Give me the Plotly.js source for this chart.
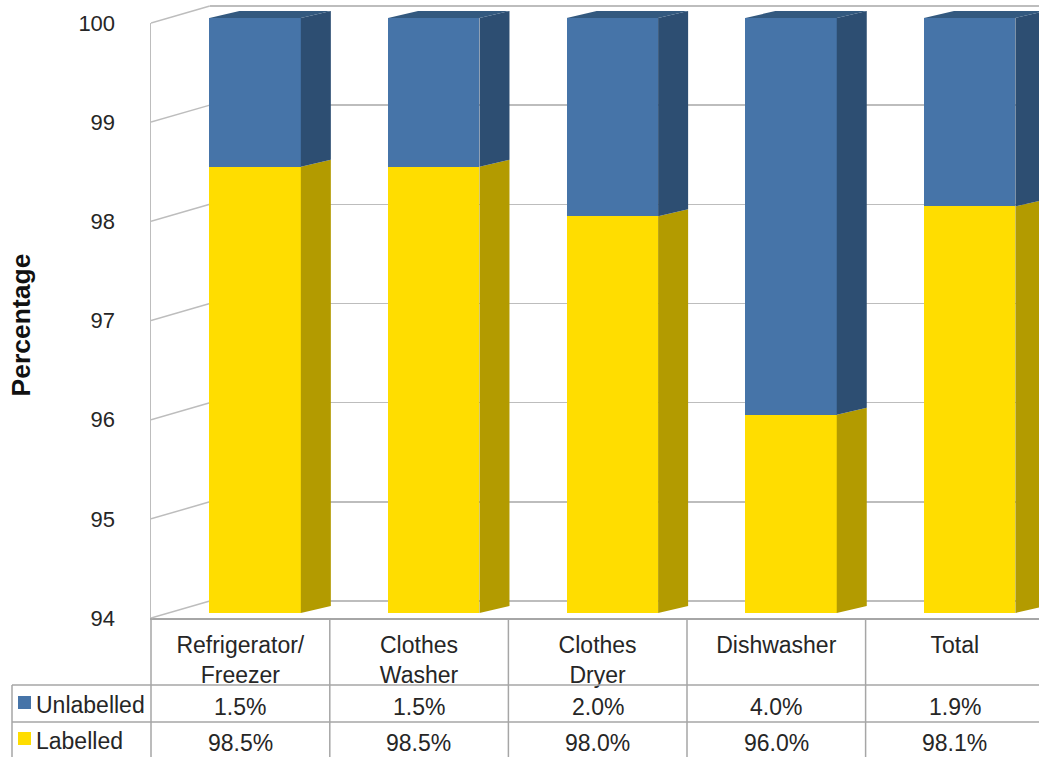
<!DOCTYPE html>
<html><head><meta charset="utf-8">
<script src="https://cdn.plot.ly/plotly-3.0.1.min.js"></script>
<style>html,body{margin:0;padding:0;background:#fff;overflow:hidden}#c{width:1039px;height:757px}</style>
</head><body><div id="c"></div>
<script>
// ---- data ----
var categories = ['Refrigerator/<br>Freezer', 'Clothes<br>Washer', 'Clothes<br>Dryer', 'Dishwasher', 'Total'];
var labelled = [98.5, 98.5, 98.0, 96.0, 98.1];
var unlabelled = [1.5, 1.5, 2.0, 4.0, 1.9];
var yTicks = [94, 95, 96, 97, 98, 99, 100];
var seriesNames = ['Unlabelled', 'Labelled'];

// ---- layout constants (pixels in the 1039x757 picture) ----
var W = 1039, H = 757;
var FONT = '"Liberation Sans", Arial, sans-serif';
var TXT = '#262626', GRID = '#bdbdbd', TABLE = '#a6a6a6';
var colPx = 178.6, unitPx = 99.17;
var wallLeft = 151, backLeft = 210, firstCentre = 240.5;
var wallTop = 23, wallBottom = 618, frontBottom = 613, backTop = 6, backBottom = 601;
var barLeftPx = 209.6, barWidthPx = 91.4, depthX = 30, depthY = 7;
var rows = {top: 685, mid: 722, bottom: 757, t1: 707, t2: 743};
var FS = 23, FS_Y = 22;

var px = function (p) { return p / W; };
var py = function (p) { return 1 - p / H; };
var xOf = function (p) { return (p - firstCentre) / colPx; };

var idx = categories.map(function (_, i) { return i; });
var barOffset = (barLeftPx - firstCentre) / colPx;
var barWidth = barWidthPx / colPx;
var dX = depthX / colPx, dY = depthY / unitPx;

function faces(lowFn, highFn) {
  var xs = [], ys = [];
  idx.forEach(function (i) {
    var xr = i + barOffset + barWidth, lo = lowFn(i), hi = highFn(i);
    xs.push(xr, xr + dX, xr + dX, xr, xr, null);
    ys.push(lo, lo + dY, hi + dY, hi, lo, null);
  });
  return {x: xs, y: ys};
}
function tops() {
  var xs = [], ys = [];
  idx.forEach(function (i) {
    var xl = i + barOffset, xr = xl + barWidth, t = labelled[i] + unlabelled[i];
    xs.push(xl, xl + dX, xr + dX, xr, xl, null);
    ys.push(t, t + dY, t + dY, t, t, null);
  });
  return {x: xs, y: ys};
}
function poly(f, color) {
  return {type: 'scatter', mode: 'lines', x: f.x, y: f.y, xaxis: 'x2', yaxis: 'y4', fill: 'toself',
    fillcolor: color, line: {width: 0, color: color}, hoverinfo: 'skip', showlegend: false, cliponaxis: false};
}

// left wall diagonals
var diagX = [], diagY = [];
yTicks.forEach(function (v) {
  diagX.push(-0.5, xOf(backLeft), null);
  diagY.push(v, v + (wallTop - backTop) / unitPx, null);
});

var sideYellow = faces(function () { return 94; }, function (i) { return labelled[i]; });
var sideBlue = faces(function (i) { return labelled[i]; }, function (i) { return labelled[i] + unlabelled[i]; });

var traces = [
  // back wall (gives the grid)
  {type: 'scatter', mode: 'lines', x: [0], y: [94], xaxis: 'x', yaxis: 'y', hoverinfo: 'skip', showlegend: false, line: {width: 0}},
  // tick labels of the left wall
  {type: 'scatter', mode: 'lines', x: [0], y: [94], xaxis: 'x2', yaxis: 'y2', hoverinfo: 'skip', showlegend: false, line: {width: 0}},
  // left wall diagonals
  {type: 'scatter', mode: 'lines', x: diagX, y: diagY, xaxis: 'x2', yaxis: 'y3', hoverinfo: 'skip', showlegend: false,
    cliponaxis: false, line: {color: GRID, width: 1.5}},
  // bars
  {type: 'bar', name: seriesNames[1], x: idx, y: labelled, xaxis: 'x2', yaxis: 'y4', width: barWidth, offset: barOffset,
    marker: {color: '#FFDD00', line: {width: 0}}, showlegend: false},
  {type: 'bar', name: seriesNames[0], x: idx, y: unlabelled, xaxis: 'x2', yaxis: 'y4', width: barWidth, offset: barOffset,
    marker: {color: '#4674A8', line: {width: 0}}, showlegend: false},
  poly(sideYellow, '#B39B00'),
  poly(sideBlue, '#2D4E72'),
  poly(tops(), '#33597F')
];

// table
var shapes = [];
function ln(x0, y0, x1, y1) {
  shapes.push({type: 'line', xref: 'paper', yref: 'paper', x0: px(x0), x1: px(x1), y0: py(y0), y1: py(y1),
    line: {color: TABLE, width: 1.5}, layer: 'above'});
}
ln(12, rows.top, W, rows.top);
ln(12, rows.mid, W, rows.mid);
ln(12, rows.top, 12, H);
ln(wallLeft, wallBottom, wallLeft, H);
idx.forEach(function (i) {
  var p = firstCentre + (i + 0.5) * colPx;
  ln(p, wallBottom, p, H);
});
function swatch(y0, color) {
  shapes.push({type: 'rect', xref: 'paper', yref: 'paper', x0: px(18), x1: px(31), y0: py(y0), y1: py(y0 + 13),
    line: {width: 0}, fillcolor: color, layer: 'above'});
}
swatch(696, '#4674A8');
swatch(732, '#FFDD00');

var annotations = [];
function note(text, xVal, xref, yPx, anchor) {
  annotations.push({text: text, x: xVal, xref: xref, y: py(yPx), yref: 'paper', xanchor: anchor, yanchor: 'middle',
    showarrow: false, borderpad: 0, font: {family: FONT, size: FS, color: TXT}});
}
note(seriesNames[0], px(35), 'paper', rows.t1 - 2, 'left');
note(seriesNames[1], px(35), 'paper', rows.t2 - 2, 'left');
idx.forEach(function (i) {
  note(unlabelled[i].toFixed(1) + '%', i, 'x2', rows.t1, 'center');
  note(labelled[i].toFixed(1) + '%', i, 'x2', rows.t2, 'center');
});

var diagBottomPx = 650; // keeps the centre of this axis, and so its title, at the middle of the word
var layout = {
  width: W, height: H, margin: {l: 0, r: 0, t: 0, b: 0, pad: 0}, autosize: false,
  paper_bgcolor: '#fff', plot_bgcolor: 'rgba(0,0,0,0)', barmode: 'stack', showlegend: false,
  font: {family: FONT, size: FS, color: TXT},
  // back wall
  xaxis: {domain: [px(backLeft), 1], range: [0, 1], visible: false, fixedrange: true, anchor: 'y'},
  yaxis: {domain: [py(backBottom + 5), 1], range: [94 - 5 / unitPx, 100 + backTop / unitPx], tickvals: yTicks,
    showticklabels: false, ticks: '', showgrid: true, gridcolor: GRID, gridwidth: 1.5, zeroline: false, showline: false,
    anchor: 'x', fixedrange: true},
  // left wall + category axis
  xaxis2: {domain: [px(wallLeft), 1], range: [-0.5, xOf(W)], tickvals: idx, ticktext: categories, ticks: '',
    showgrid: false, zeroline: false, showline: true, linecolor: TABLE, linewidth: 1.5, anchor: 'y2', fixedrange: true,
    ticklabelstandoff: 6, tickfont: {family: FONT, size: FS, color: TXT}},
  yaxis2: {domain: [py(wallBottom), py(wallTop)], range: [94, 100], tickvals: yTicks, ticks: '', showgrid: false,
    zeroline: false, showline: true, linecolor: GRID, linewidth: 1.5, anchor: 'x2', fixedrange: true,
    ticklabelstandoff: 30, tickfont: {family: FONT, size: FS_Y, color: TXT}},
  // full-height plane of the left wall: diagonals and axis title
  yaxis3: {domain: [py(diagBottomPx), 1], range: [94 - (diagBottomPx - wallBottom) / unitPx, 94 + wallBottom / unitPx],
    tickvals: [], showticklabels: false, ticks: '', showgrid: false, zeroline: false, showline: false, anchor: 'x2', fixedrange: true,
    title: {text: '<b>Percentage</b>', font: {family: FONT, size: 26.5, color: '#111'}, standoff: 111}},
  // front plane of the bars (reaches the top of the picture)
  yaxis4: {domain: [py(frontBottom), 1], range: [94, 94 + frontBottom / unitPx], visible: false, anchor: 'x2', fixedrange: true},
  shapes: shapes, annotations: annotations
};
Plotly.newPlot('c', traces, layout, {displayModeBar: false, staticPlot: true});
</script></body></html>
